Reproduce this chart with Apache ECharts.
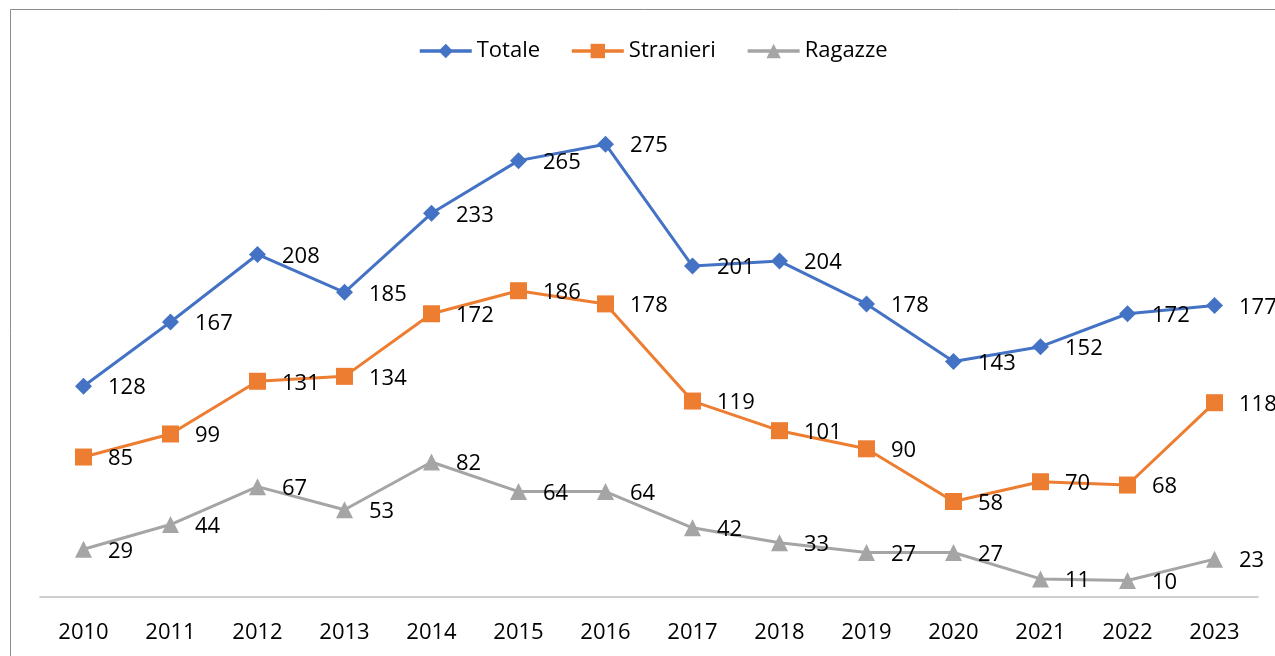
<!DOCTYPE html>
<html>
<head>
<meta charset="utf-8">
<script src="https://cdn.jsdelivr.net/npm/echarts@6/dist/echarts.min.js"></script>
<style>html,body{margin:0;padding:0;background:#fff}#c{width:1275px;height:656px}</style>
</head>
<body>
<div id="c"></div>
<script>
const years = ['2010','2011','2012','2013','2014','2015','2016','2017','2018','2019','2020','2021','2022','2023'];
const totale = [128,167,208,185,233,265,275,201,204,178,143,152,172,177];
const stranieri = [85,99,131,134,172,186,178,119,101,90,58,70,68,118];
const ragazze = [29,44,67,53,82,64,64,42,33,27,27,11,10,23];

const FONT = 'Open Sans';
const chart = echarts.init(document.getElementById('c'), null, {renderer: 'canvas'});
function mk(name, data, color, symbol, size) {
  return {
    name, type: 'line', data, symbol, symbolSize: size,
    lineStyle: {color, width: 3}, itemStyle: {color},
    label: {show: true, position: 'right', distance: 16, offset: [0, 2], color: '#000', fontFamily: FONT, fontSize: 22},
    animation: false
  };
}
chart.setOption({
  backgroundColor: '#fff',
  graphic: [{type: 'rect', shape: {x: 10.5, y: 9.5, width: 1400, height: 1000}, style: {fill: 'none', stroke: '#8c8c8c', lineWidth: 1}, silent: true}],
  legend: {
    top: 35, left: 413, itemWidth: 52, itemHeight: 18, itemGap: 30,
    lineStyle: {width: 3.5},
    textStyle: {fontFamily: FONT, fontSize: 22, color: '#000'},
    data: ['Totale','Stranieri','Ragazze']
  },
  grid: {left: 40, right: 17, top: 103, bottom: 59, containLabel: false},
  xAxis: {
    type: 'category', data: years, boundaryGap: true,
    axisLine: {lineStyle: {color: '#bfbfbf', width: 1.5}},
    axisTick: {show: false},
    axisLabel: {color: '#000', fontFamily: FONT, fontSize: 22, margin: 25}
  },
  yAxis: {type: 'value', min: 0, max: 300, show: false, splitLine: {show: false}},
  series: [
    mk('Totale', totale, '#4472C4', 'diamond', 17),
    mk('Stranieri', stranieri, '#ED7D31', 'rect', 17),
    mk('Ragazze', ragazze, '#A5A5A5', 'triangle', 17)
  ]
});
</script>
</body>
</html>
